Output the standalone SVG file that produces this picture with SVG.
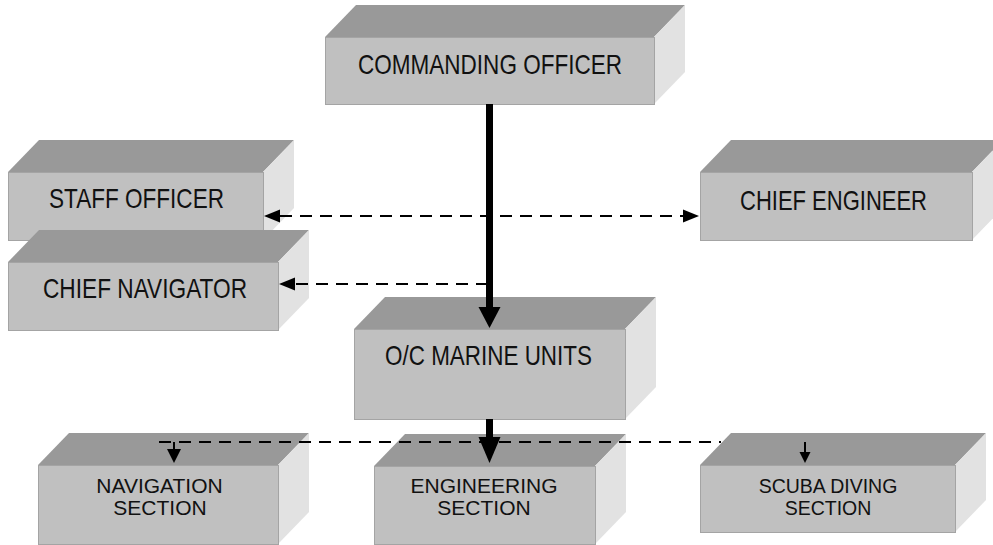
<svg xmlns="http://www.w3.org/2000/svg" width="993" height="545" viewBox="0 0 993 545">
  <defs>
    <style>
      .top { fill: #999999; }
      .front { fill: #c0c0c0; stroke: #a4a4a4; stroke-width: 1; }
      .side { fill: #e2e2e2; }
      .lbl { font-family: "Liberation Sans", Arial, sans-serif; text-anchor: middle; fill: #111111; }
      .big { font-size: 28.5px; }
      .small { font-size: 21px; }
      .heavy { stroke: #000000; stroke-width: 7; fill: none; }
      .dash { stroke: #000000; stroke-width: 2; fill: none; stroke-dasharray: 12 8; }
      .thin { stroke: #000000; stroke-width: 2; fill: none; }
    </style>
    <!-- heavy arrowhead, drawn beyond the end of the line -->
    <marker id="heavyHead" markerUnits="userSpaceOnUse" markerWidth="22" markerHeight="22" refX="0" refY="11" orient="auto" overflow="visible">
      <path d="M0,0 L21,11 L0,22 Z" fill="#000"/>
    </marker>
    <marker id="heavyHeadLong" markerUnits="userSpaceOnUse" markerWidth="27" markerHeight="22" refX="0" refY="11" orient="auto" overflow="visible">
      <path d="M0,0 L26,11 L0,22 Z" fill="#000"/>
    </marker>
    <!-- dashed-line arrowhead -->
    <marker id="dashHead" markerUnits="userSpaceOnUse" markerWidth="16" markerHeight="13" refX="0" refY="6.5" orient="auto" overflow="visible">
      <path d="M0,0 L16,6.5 L0,13 Z" fill="#000"/>
    </marker>
    <marker id="dashHeadStart" markerUnits="userSpaceOnUse" markerWidth="16" markerHeight="13" refX="0" refY="6.5" orient="auto-start-reverse" overflow="visible">
      <path d="M0,0 L16,6.5 L0,13 Z" fill="#000"/>
    </marker>
    <marker id="smallHead" markerUnits="userSpaceOnUse" markerWidth="14" markerHeight="14" refX="0" refY="7" orient="auto" overflow="visible">
      <path d="M0,0 L14,7 L0,14 Z" fill="#000"/>
    </marker>
    <marker id="tinyHead" markerUnits="userSpaceOnUse" markerWidth="11" markerHeight="11" refX="0" refY="5.5" orient="auto" overflow="visible">
      <path d="M0,0 L11,5.5 L0,11 Z" fill="#000"/>
    </marker>
  </defs>

  <rect width="993" height="545" fill="#ffffff"/>

  <!-- nodes: 3D blocks (top face, side face, front face) -->
  <g id="commanding-officer">
    <polygon class="top" points="325,37 356,5 685,5 654,37"/>
    <polygon class="side" points="654,37 685,5 685,72 654,104"/>
    <rect class="front" x="325.5" y="37.5" width="329" height="67"/>
    <text class="lbl big" x="490" y="74" textLength="264" lengthAdjust="spacingAndGlyphs">COMMANDING OFFICER</text>
  </g>

  <g id="staff-officer">
    <polygon class="top" points="8,172 39,140 294,140 263,172"/>
    <polygon class="side" points="263,172 294,140 294,208 263,240"/>
    <rect class="front" x="8.5" y="172.5" width="255" height="68"/>
    <text class="lbl big" x="136.5" y="208" textLength="175" lengthAdjust="spacingAndGlyphs">STAFF OFFICER</text>
  </g>

  <g id="chief-navigator">
    <polygon class="top" points="8,262 39,230 309,230 278,262"/>
    <polygon class="side" points="278,262 309,230 309,298 278,330"/>
    <rect class="front" x="8.5" y="262.5" width="270" height="68"/>
    <text class="lbl big" x="145" y="298" textLength="204" lengthAdjust="spacingAndGlyphs">CHIEF NAVIGATOR</text>
  </g>

  <g id="chief-engineer">
    <polygon class="top" points="700,172 731,140 1003,140 972,172"/>
    <polygon class="side" points="972,172 1003,140 1003,208 972,240"/>
    <rect class="front" x="700.5" y="172.5" width="272" height="68"/>
    <text class="lbl big" x="833.5" y="210" textLength="187" lengthAdjust="spacingAndGlyphs">CHIEF ENGINEER</text>
  </g>

  <g id="oc-marine-units">
    <polygon class="top" points="354,329 385,297 656,297 625,329"/>
    <polygon class="side" points="625,329 656,297 656,387 625,419"/>
    <rect class="front" x="354.5" y="329.5" width="271" height="90"/>
    <text class="lbl big" x="488.5" y="365" textLength="207" lengthAdjust="spacingAndGlyphs">O/C MARINE UNITS</text>
  </g>

  <g id="navigation-section">
    <polygon class="top" points="38,465 69,433 309,433 278,465"/>
    <polygon class="side" points="278,465 309,433 309,512 278,544"/>
    <rect class="front" x="38.5" y="465.5" width="240" height="79"/>
    <text class="lbl small" x="159.5" y="493">NAVIGATION</text>
    <text class="lbl small" x="160" y="515">SECTION</text>
  </g>

  <g id="engineering-section">
    <polygon class="top" points="374,466 405,434 626,434 595,466"/>
    <polygon class="side" points="595,466 626,434 626,512 595,544"/>
    <rect class="front" x="374.5" y="466.5" width="221" height="78"/>
    <text class="lbl small" x="484" y="493">ENGINEERING</text>
    <text class="lbl small" x="484" y="515">SECTION</text>
  </g>

  <g id="scuba-diving-section">
    <polygon class="top" points="700,465 731,433 986,433 955,465"/>
    <polygon class="side" points="955,465 986,433 986,500 955,532"/>
    <rect class="front" x="700.5" y="465.5" width="255" height="67"/>
    <text class="lbl small" x="828" y="493" style="font-size:19.5px">SCUBA DIVING</text>
    <text class="lbl small" x="828" y="515" style="font-size:19.5px">SECTION</text>
  </g>

  <!-- connectors -->
  <g id="connectors">
    <!-- staff officer <-> chief engineer -->
    <line class="dash" x1="280" y1="216" x2="683" y2="216" marker-start="url(#dashHeadStart)" marker-end="url(#dashHead)"/>
    <!-- to chief navigator -->
    <line class="dash" x1="488" y1="284" x2="295" y2="284" marker-end="url(#dashHead)"/>
    <!-- command line -->
    <line class="heavy" x1="489.5" y1="104" x2="489.5" y2="307" marker-end="url(#heavyHead)"/>
    <line class="heavy" x1="489.5" y1="419" x2="489.5" y2="437" marker-end="url(#heavyHeadLong)"/>
    <!-- section distribution line -->
    <line class="dash" x1="158" y1="442" x2="721" y2="442" stroke-dashoffset="19"/>
    <line class="thin" x1="174" y1="442" x2="174" y2="449" marker-end="url(#smallHead)"/>
    <line class="thin" x1="805" y1="442" x2="805" y2="452" marker-end="url(#tinyHead)"/>
  </g>
</svg>
